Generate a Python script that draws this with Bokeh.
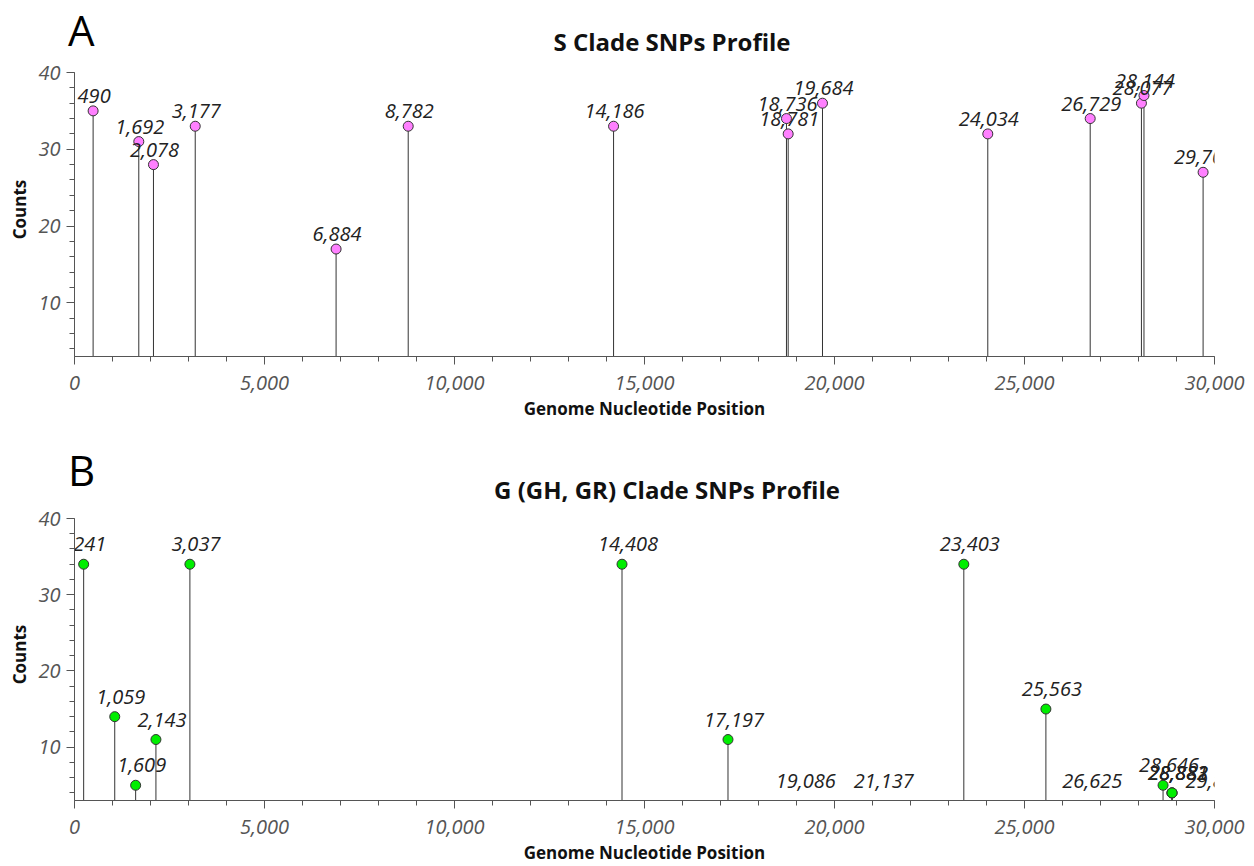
from bokeh.plotting import figure
from bokeh.layouts import column
from bokeh.models import (Range1d, ColumnDataSource, NumeralTickFormatter,
                          SingleIntervalTicker, Div)
from bokeh.core.properties import value
from bokeh.embed import file_html
from bokeh.resources import INLINE

# ---- data ----
S_POS = [490, 1692, 2078, 3177, 6884, 8782, 14186, 18736, 18781, 19684,
         24034, 26729, 28077, 28144, 29700]
S_CNT = [35, 31, 28, 33, 17, 33, 33, 34, 32, 36, 32, 34, 36, 37, 27]

G_POS = [241, 1059, 1609, 2143, 3037, 14408, 17197, 19086, 21137, 23403,
         25563, 26625, 28646, 28881, 28882, 28883, 29870]
G_CNT = [34, 14, 5, 11, 34, 34, 11, 3, 3, 34, 15, 3, 5, 4, 4, 4, 3]

X_MIN, X_MAX = 0, 30000
Y_MIN, Y_MAX = 3, 40

FONT = "Open Sans"
FIG_W = 1246


def header(letter, title, height, letter_top, title_top, title_cx):
    html = (
        f'<div style="position:relative;width:{FIG_W}px;height:{height}px;'
        f"font-family:'{FONT}',sans-serif;\">"
        f'<div style="position:absolute;left:68px;top:{letter_top}px;'
        f'font-size:42px;line-height:1;color:#000000;white-space:nowrap;">'
        f'{letter}</div>'
        f'<div style="position:absolute;left:{title_cx - 400}px;width:800px;'
        f'top:{title_top}px;text-align:center;font-size:24px;'
        f'font-weight:bold;line-height:1;color:#111111;white-space:nowrap;">'
        f'{title}</div></div>')
    return Div(text=html, width=FIG_W, height=height, margin=(0, 0, 0, 0))


def panel(pos, cnt, color, left, data_h, head_h, bottom, lab_dx, lab_up):
    # a few pixels of head room above the value axis so labels are not cut
    px_per_unit = data_h / (Y_MAX - Y_MIN)
    y_top = Y_MAX + head_h / px_per_unit
    p = figure(frame_width=1140, frame_height=data_h + head_h,
               output_backend="svg", toolbar_location=None,
               x_range=Range1d(X_MIN, X_MAX), y_range=Range1d(Y_MIN, y_top),
               min_border_left=left, min_border_right=FIG_W - 1140 - left,
               min_border_top=6, min_border_bottom=bottom)
    p.title.visible = False

    p.grid.visible = False
    p.outline_line_color = None
    p.background_fill_color = "white"
    p.border_fill_color = "white"

    for ax in (p.xaxis[0], p.yaxis[0]):
        ax.axis_line_color = "#555555"
        ax.major_tick_line_color = "#555555"
        ax.minor_tick_line_color = "#555555"
        ax.major_tick_in = 0
        ax.major_tick_out = 8
        ax.minor_tick_in = 0
        ax.minor_tick_out = 5
        ax.major_label_text_font = FONT
        ax.major_label_text_font_style = "italic"
        ax.major_label_text_font_size = "20px"
        ax.major_label_text_color = "#555555"
        ax.axis_label_text_font = FONT
        ax.axis_label_text_font_style = "bold"
        ax.axis_label_text_font_size = "17px"
        ax.axis_label_text_color = "#111111"
        ax.formatter = NumeralTickFormatter(format="0,0")

    p.yaxis.bounds = (Y_MIN, Y_MAX)
    p.xaxis.ticker = SingleIntervalTicker(interval=5000, num_minor_ticks=5)
    p.yaxis.ticker = SingleIntervalTicker(interval=10, num_minor_ticks=5)
    p.xaxis.axis_label = "Genome Nucleotide Position"
    p.yaxis.axis_label = "Counts"
    p.xaxis.major_label_standoff = 11
    p.xaxis.axis_label_standoff = 4
    p.yaxis.major_label_standoff = 6
    p.yaxis.axis_label_standoff = 4

    labels = [f"{v:,}" for v in pos]
    src = ColumnDataSource(dict(x=pos, y=cnt, y0=[0] * len(pos), lab=labels))
    dpos = [x for x, c in zip(pos, cnt) if c > Y_MIN]
    dcnt = [c for c in cnt if c > Y_MIN]
    dots = ColumnDataSource(dict(x=dpos, y=dcnt))

    p.segment(x0="x", y0="y0", x1="x", y1="y", source=src,
              line_color="#333333", line_width=1)
    p.scatter(x="x", y="y", source=dots, size=10, fill_color=color,
              line_color="#333333", line_width=1)
    p.text(x="x", y="y", text="lab", source=src, text_font=value(FONT),
           text_font_style="italic", text_font_size="20px",
           text_color="#222222", text_align="center",
           text_baseline="middle", x_offset=lab_dx, y_offset=-lab_up)
    return p


ha = header("A", "S Clade SNPs Profile", 56, 8.7, 30.3, 672)
pa = panel(S_POS, S_CNT, "#ff80ff", 74, 284, 10, 82, 1, 15)
hb = header("B", "G (GH, GR) Clade SNPs Profile", 64, 10.7, 40.3, 667)
pb = panel(G_POS, G_CNT, "#00ee00", 73, 282, 10, 60, 6, 20)

layout = column(ha, pa, hb, pb, spacing=0)
open("out.html", "w").write(file_html(layout, INLINE))
